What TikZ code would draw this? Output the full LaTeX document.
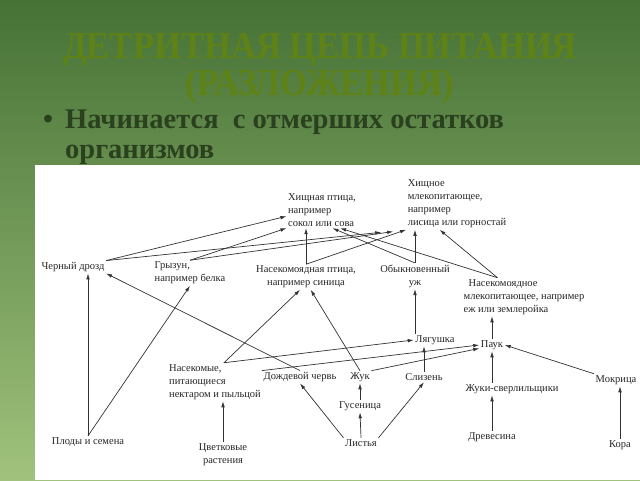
\documentclass[tikz,border=0pt]{standalone}
\usepackage{fontspec}
\setmainfont{Liberation Serif}
\usetikzlibrary{arrows.meta}
\definecolor{bgtop}{RGB}{70,114,54}
\definecolor{bgbot}{RGB}{160,194,124}
\definecolor{titlegreen}{RGB}{94,130,22}
\definecolor{bullgreen}{RGB}{42,64,30}
\tikzstyle{org}=[font=\fontsize{10.5}{13}\selectfont,inner sep=1.5pt,text=black!85]
\tikzstyle{orgl}=[org,align=left]
\tikzstyle{orgc}=[org,align=center]
\tikzstyle{eat}=[-{Latex[length=6pt,width=3.6pt]},line width=0.7pt,draw=black!80]
\tikzstyle{head}=[font=\fontsize{38}{40}\selectfont\bfseries,text=titlegreen,anchor=base,inner sep=0pt,xscale=0.91]
\tikzstyle{bull}=[font=\fontsize{28.5}{32}\selectfont\bfseries,text=bullgreen,anchor=base west,inner sep=0pt]

\begin{document}
\begin{tikzpicture}[x=1pt,y=-1pt]
    \useasboundingbox (0,0) rectangle (640,480);
    \shade[top color=bgtop,bottom color=bgbot] (0,0) rectangle (640,480);
    \fill[white] (35,165) rectangle (640,480);

    \node[head] (title1) at (320,58) {ДЕТРИТНАЯ ЦЕПЬ ПИТАНИЯ};
    \node[head] (title2) at (320,95) {(РАЗЛОЖЕНИЯ)};
    \node[bull,anchor=base] (dot) at (48,128) {•};
    \node[bull] (line1) at (65,128) {Начинается\ \ с отмерших остатков};
    \node[bull] (line2) at (65,158) {организмов};

    \node[orgl] (ptica) at (322,210) {Хищная птица,\\например\\сокол или сова};
    \node[orgl] (zver) at (457,204) {Хищное\\млекопитающее,\\например\\лисица или горностай};
    \node[org] (drozd) at (73,267) {Черный дрозд};
    \node[orgl] (gryzun) at (190,273) {Грызун,\\например белка};
    \node[orgc] (sinica) at (306,277) {Насекомоядная птица,\\например синица};
    \node[orgc] (uzh) at (415,276) {Обыкновенный\\уж};
    \node[orgl] (ezh) at (524,297) {\hspace{5pt}Насекомоядное\\млекопитающее, например\\еж или землеройка};
    \node[org] (lyagushka) at (435,340) {Лягушка};
    \node[org] (pauk) at (492,345) {Паук};
    \node[orgl] (nasekomye) at (215,382) {Насекомые,\\питающиеся\\нектаром и пыльцой};
    \node[org] (cherv) at (300,377) {Дождевой червь};
    \node[org] (zhuk) at (360,377) {Жук};
    \node[org] (slizen) at (424,377) {Слизень};
    \node[org] (gusenica) at (360,406) {Гусеница};
    \node[org] (listya) at (361,443) {Листья};
    \node[org] (zhuki) at (512,389) {Жуки-сверлильщики};
    \node[org] (drevesina) at (492,437) {Древесина};
    \node[org] (mokrica) at (616,380) {Мокрица};
    \node[org] (kora) at (620,445) {Кора};
    \node[org] (plody) at (88,442) {Плоды и семена};
    \node[orgc] (cvetkovye) at (223,455) {Цветковые\\растения};

    \foreach \from/\to/\sh in {plody.north/{drozd.south -| plody.north}/0pt,
        plody.north/gryzun.south/0pt,
        cherv.north/drozd.south east/0pt,
        cvetkovye.north/{nasekomye.south -| cvetkovye.north}/0pt,
        nasekomye.65/sinica.-115/0pt,
        zhuk.north/sinica.-70/0pt,
        nasekomye.65/lyagushka.west/0pt,
        cherv.north west/pauk.west/0pt,
        zhuk.north east/pauk.-165/0pt,
        gusenica.north/zhuk.south/0pt,
        listya.north/gusenica.south/0pt,
        listya.north west/cherv.south/0pt,
        listya.north east/slizen.south/0pt,
        slizen.north/{lyagushka.south -| slizen.north}/0pt,
        {lyagushka.north -| uzh.south}/uzh.south/0pt,
        uzh.north/{zver.south -| uzh.north}/0pt,
        uzh.north/ptica.-60/0pt,
        ezh.144/ptica.-45/0pt,
        ezh.144/zver.-124/0pt,
        sinica.north/{ptica.south -| sinica.north}/0pt,
        sinica.north/zver.south west/0pt,
        drozd.north east/ptica.190/0pt,
        drozd.north east/zver.south west/25pt,
        gryzun.north/ptica.south west/0pt,
        gryzun.north/zver.south west/13pt,
        pauk.north/{ezh.south -| pauk.north}/0pt,
        {zhuki.north -| pauk.south}/pauk.south/0pt,
        drevesina.north/{zhuki.south -| drevesina.north}/0pt,
        mokrica.north west/pauk.east/0pt,
        kora.north/{mokrica.south -| kora.north}/0pt}
    \draw[eat,shorten >=\sh] (\from) -- (\to);
\end{tikzpicture}
\end{document}
